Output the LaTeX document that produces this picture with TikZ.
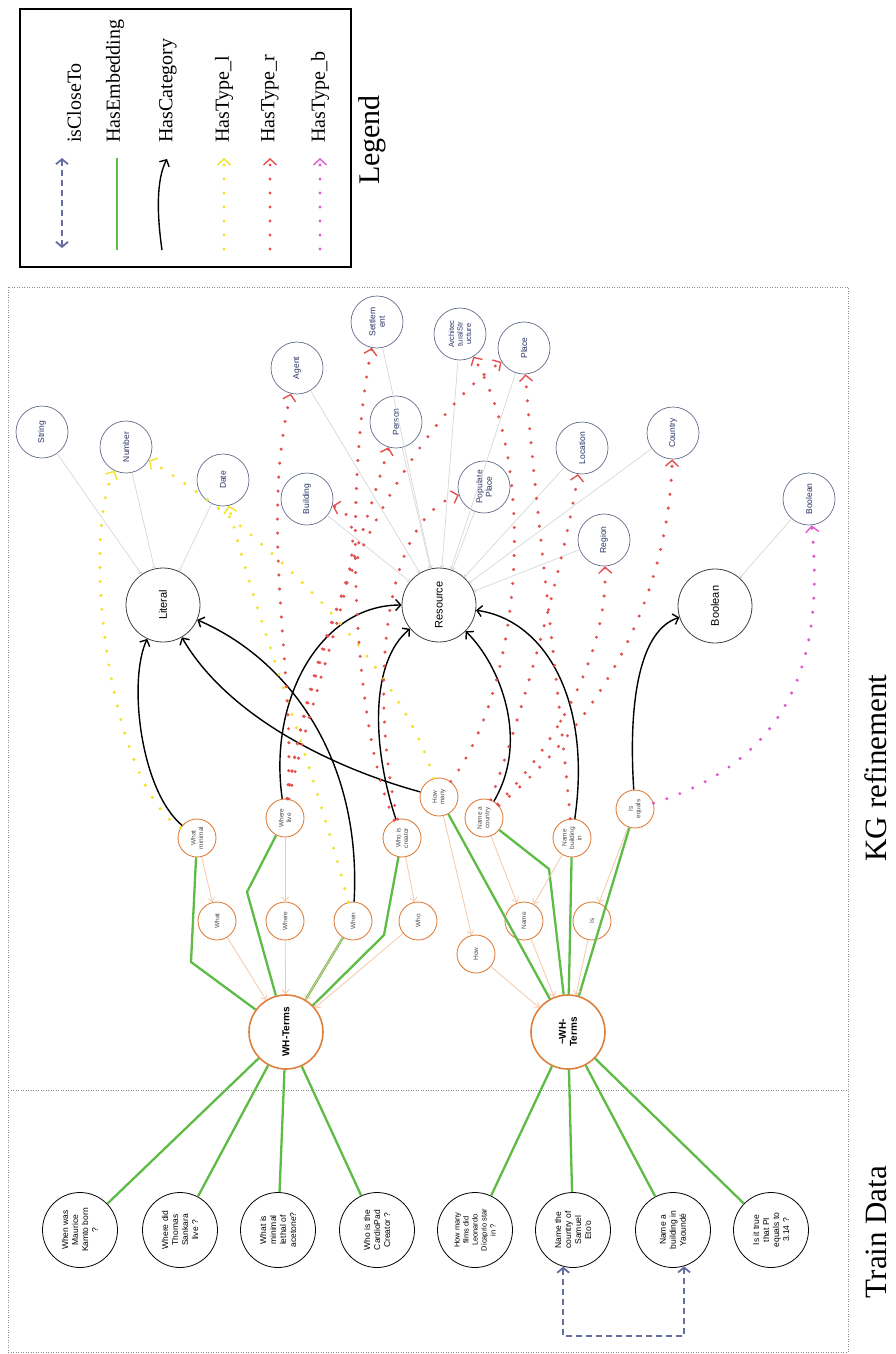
\documentclass[tikz,border=0pt]{standalone}
\usepackage{fontspec}
\setmainfont{Liberation Serif}
\setsansfont{Liberation Sans}
\usetikzlibrary{arrows.meta}
\definecolor{embgreen}{HTML}{5DBB46}
\definecolor{termorange}{HTML}{DE803C}
\definecolor{termpeach}{HTML}{F5C8AA}
\definecolor{typeblue}{HTML}{646E8C}
\definecolor{typetext}{HTML}{283264}
\definecolor{tylyellow}{HTML}{F2E22A}
\definecolor{tyrred}{HTML}{E55050}
\definecolor{tybmagenta}{HTML}{E05AD2}
\definecolor{closeblue}{HTML}{646EA0}
\definecolor{subgray}{HTML}{D7D7D7}

\begin{document}
\begin{tikzpicture}[
    x=1pt, y=-1pt,
    question/.style={circle, draw=black, line width=0.8pt, minimum size=75pt, inner sep=0pt, rotate=90, align=center, font=\sffamily\fontsize{8.5}{10}\selectfont},
    term/.style={circle, draw=termorange, line width=1.6pt, minimum size=74pt, inner sep=0pt, rotate=90, align=center, font=\sffamily\bfseries\fontsize{10}{11}\selectfont},
    word/.style={circle, draw=termorange, line width=0.9pt, minimum size=38pt, inner sep=0pt, rotate=90, align=center, text=black!70, font=\sffamily\fontsize{6.5}{7.5}\selectfont},
    category/.style={circle, draw=black!75, line width=0.8pt, minimum size=74pt, inner sep=0pt, rotate=90, font=\sffamily\fontsize{11}{13}\selectfont},
    kgtype/.style={circle, draw=typeblue, line width=0.7pt, minimum size=52pt, inner sep=0pt, rotate=90, align=center, text=typetext, font=\sffamily\fontsize{8.5}{9.5}\selectfont},
    bigtitle/.style={rotate=90, inner sep=0pt, font=\fontsize{31}{35}\selectfont},
    legtext/.style={rotate=90, anchor=west, inner sep=0pt, font=\fontsize{20}{24}\selectfont},
    frame/.style={draw=black!45, line width=0.9pt, dash pattern=on 1pt off 1.5pt},
    emb/.style={draw=embgreen, line width=2.3pt},
    cat/.style={draw=black, line width=1.4pt, -{Straight Barb[length=5pt,width=11pt]}},
    wordof/.style={draw=termpeach, line width=0.8pt, -{Straight Barb[length=4pt,width=7pt]}},
    subof/.style={draw=subgray, line width=0.7pt, -{Straight Barb[length=2pt,width=4pt]}},
    hastype/.style={line width=3.4pt, line cap=round, dash pattern=on 0pt off 14pt, -{Straight Barb[length=6pt,width=13pt,line width=1.4pt]}},
    tyl/.style={hastype, draw=tylyellow},
    tyr/.style={hastype, draw=tyrred},
    tyb/.style={hastype, draw=tybmagenta},
    closeto/.style={draw=closeblue, line width=1.8pt, dash pattern=on 6pt off 4pt, {Straight Barb[length=5pt,width=12pt]}-{Straight Barb[length=5pt,width=12pt]}}
  ]
    \useasboundingbox (0,0) rectangle (895,1354);

    % Legend
    \draw[line width=1.6pt] (20,9) rectangle (351,267);
    \node[legtext] (lgclose) at (74,143) {isCloseTo};
    \node[legtext] (lgemb) at (115,143) {HasEmbedding};
    \node[legtext] (lgcat) at (168,143) {HasCategory};
    \node[legtext] (lgtyl) at (224,143) {HasType\_l};
    \node[legtext] (lgtyr) at (270,143) {HasType\_r};
    \node[legtext] (lgtyb) at (320,143) {HasType\_b};
    \node[rotate=90, inner sep=0pt, font=\fontsize{30}{34}\selectfont] (legend) at (372,140) {Legend};
    \draw[closeto] (62,248) -- (62,158);
    \draw[emb] (117,250) -- (117,158);
    \draw[cat] (162,250) .. controls (157,215) and (156,180) .. (167,159);
    \draw[tyl] (224,249) -- (224,158);
    \draw[tyr] (270,249) -- (270,158);
    \draw[tyb] (320,249) -- (320,158);

    % Frames
    \draw[frame] (8,287) rectangle (848,1352);
    \draw[frame] (8,1090) -- (848,1090);
    \node[bigtitle] (train) at (876,1232) {Train Data};
    \node[bigtitle] (kgref) at (876,768) {KG refinement};

    % Train data
    \node[question] (q1) at (80,1230) {When was\\Maurice\\Kamto born\\?};
    \node[question] (q2) at (180,1230) {Where did\\Thomas\\Sankara\\live ?};
    \node[question] (q3) at (278,1230) {What is\\minimal\\lethal of\\acetone?};
    \node[question] (q4) at (377,1230) {Who is the\\CardioPad\\Creator ?};
    \node[question, font=\sffamily\fontsize{7.5}{9}\selectfont] (q5) at (475,1230) {How many\\films did\\Leonardo\\Dicaprio star\\in ?};
    \node[question] (q6) at (573,1230) {Name the\\country of\\Samuel\\Eto’o};
    \node[question] (q7) at (673,1230) {Name a\\building in\\Yaoundé};
    \node[question] (q8) at (771,1230) {Is it true\\that PI\\equals to\\3.14 ?};

    % Terms
    \node[term] (wh) at (286,1032) {WH-Terms};
    \node[term] (nwh) at (568,1032) {\textasciitilde WH-\\Terms};
    \node[word] (wminimal) at (197,838) {What\\minimal};
    \node[word] (wlive) at (285,818) {Where\\live};
    \node[word] (wcreator) at (402,838) {Who is\\creator};
    \node[word] (hmany) at (439,797) {How\\many};
    \node[word] (ncountry) at (484,818) {Name a\\country};
    \node[word] (nbuilding) at (572,838) {Name\\building\\in};
    \node[word] (isequals) at (635,809) {Is\\equals};
    \node[word] (what) at (217,921) {What};
    \node[word] (where) at (285,921) {Where};
    \node[word] (when) at (353,921) {When};
    \node[word] (who) at (418,921) {Who};
    \node[word] (how) at (476,954) {How};
    \node[word] (name) at (524,921) {Name};
    \node[word] (is) at (592,921) {Is};

    % Categories and types
    \node[category] (literal) at (163,605) {Literal};
    \node[category] (resource) at (439,605) {Resource};
    \node[category] (boolean) at (715,606) {Boolean};
    \node[kgtype] (string) at (42,432) {String};
    \node[kgtype] (number) at (126,447) {Number};
    \node[kgtype] (date) at (223,480) {Date};
    \node[kgtype] (agent) at (297,368) {Agent};
    \node[kgtype] (settlement) at (377,322) {Settlem\\ent};
    \node[kgtype] (person) at (396,422) {Person};
    \node[kgtype] (building) at (307,499) {Building};
    \node[kgtype] (populated) at (484,487) {Populate\\Place};
    \node[kgtype, font=\sffamily\fontsize{7.5}{8.5}\selectfont] (archstruct) at (460,334) {Architec\\turalStr\\ucture};
    \node[kgtype] (place) at (524,348) {Place};
    \node[kgtype] (location) at (582,448) {Location};
    \node[kgtype] (country) at (673,433) {Country};
    \node[kgtype] (region) at (604,540) {Region};
    \node[kgtype] (boolval) at (809,499) {Boolean};

    % isCloseTo
    \coordinate (cbend) at (620,1336);
    \draw[closeto] (q6.165) |- (cbend) -| (q7.-163);

    % HasEmbedding
    \draw[emb] (q1) -- (wh);
    \draw[emb] (q2) -- (wh);
    \draw[emb] (q3) -- (wh);
    \draw[emb] (q4) -- (wh);
    \draw[emb] (q5) -- (nwh);
    \draw[emb] (q6) -- (nwh);
    \draw[emb] (q7) -- (nwh);
    \draw[emb] (q8) -- (nwh);
    \coordinate (bminimal) at (191,962);
    \coordinate (blive) at (247,892);
    \coordinate (bcreator) at (384,935);
    \coordinate (bcountry) at (549,869);
    \draw[emb] (wminimal) -- (bminimal) -- (wh);
    \draw[emb] (wlive) -- (blive) -- (wh);
    \draw[emb] (when) -- (wh);
    \draw[emb] (wcreator) -- (bcreator) -- (wh);
    \draw[emb] (hmany) -- (nwh);
    \draw[emb] (ncountry) -- (bcountry) -- (nwh);
    \draw[emb] (nbuilding) -- (nwh);
    \draw[emb] (isequals) -- (nwh);

    % Word links
    \draw[wordof] (wminimal) -- (what);
    \draw[wordof] (what) -- (wh);
    \draw[wordof] (wlive) -- (where);
    \draw[wordof] (where) -- (wh);
    \draw[wordof] (when) -- (wh);
    \draw[wordof] (wcreator) -- (who);
    \draw[wordof] (who) -- (wh);
    \draw[wordof] (hmany) -- (how);
    \draw[wordof] (how) -- (nwh);
    \draw[wordof] (ncountry) -- (name);
    \draw[wordof] (nbuilding) -- (name);
    \draw[wordof] (name) -- (nwh);
    \draw[wordof] (isequals) -- (is);
    \draw[wordof] (is) -- (nwh);

    % Subclasses
    \draw[subof] (string) -- (literal);
    \draw[subof] (number) -- (literal);
    \draw[subof] (date) -- (literal);
    \draw[subof] (agent) -- (resource);
    \draw[subof] (settlement) -- (resource);
    \draw[subof] (person) -- (resource);
    \draw[subof] (building) -- (resource);
    \draw[subof] (populated) -- (resource);
    \draw[subof] (archstruct) -- (resource);
    \draw[subof] (place) -- (resource);
    \draw[subof] (location) -- (resource);
    \draw[subof] (country) -- (resource);
    \draw[subof] (region) -- (resource);
    \draw[subof] (boolval) -- (boolean);

    % HasCategory
    \draw[cat] (wminimal) .. controls (140,790) and (128,680) .. (literal);
    \draw[cat] (wlive) .. controls (268,700) and (320,605) .. (resource);
    \draw[cat] (when) .. controls (362,760) and (290,660) .. (literal);
    \draw[cat] (hmany) .. controls (340,770) and (230,720) .. (literal);
    \draw[cat] (wcreator) .. controls (370,740) and (372,660) .. (resource);
    \draw[cat] (ncountry) .. controls (530,740) and (500,665) .. (resource);
    \draw[cat] (nbuilding) .. controls (592,700) and (545,620) .. (resource);
    \draw[cat] (isequals) .. controls (628,700) and (640,630) .. (boolean);

    % HasType
    \draw[tyl] (wminimal) .. controls (110,785) and (80,540) .. (number);
    \draw[tyl] (hmany) .. controls (400,660) and (250,520) .. (number);
    \draw[tyl] (when) .. controls (315,770) and (250,600) .. (date);
    \draw[tyr] (wlive) .. controls (298,690) and (258,530) .. (agent);
    \draw[tyr] (wlive) .. controls (300,700) and (350,580) .. (person);
    \draw[tyr] (wlive) .. controls (318,660) and (385,520) .. (building);
    \draw[tyr] (wlive) .. controls (322,560) and (440,400) .. (place);
    \draw[tyr] (wcreator) .. controls (350,720) and (345,480) .. (settlement);
    \draw[tyr] (wcreator) .. controls (370,700) and (380,520) .. (populated);
    \draw[tyr] (hmany) .. controls (520,690) and (540,470) .. (archstruct);
    \draw[tyr] (nbuilding) .. controls (560,700) and (532,480) .. (place);
    \draw[tyr] (ncountry) .. controls (520,720) and (565,560) .. (location);
    \draw[tyr] (ncountry) .. controls (560,740) and (608,650) .. (region);
    \draw[tyr] (ncountry) .. controls (600,720) and (668,600) .. (country);
    \draw[tyb] (isequals) .. controls (790,760) and (825,660) .. (boolval);
  \end{tikzpicture}
\end{document}
